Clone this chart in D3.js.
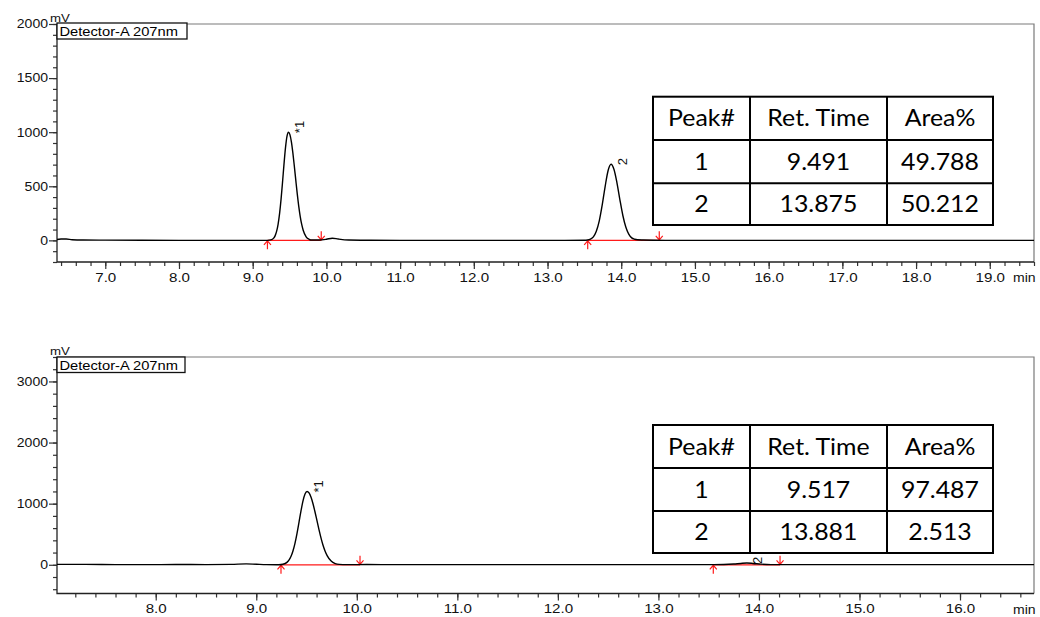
<!DOCTYPE html>
<html><head><meta charset="utf-8">
<script src="https://cdn.jsdelivr.net/npm/d3@7/dist/d3.min.js"></script>
<style>body{margin:0;background:#fff}svg{display:block}</style>
</head><body>
<svg id="c" width="1040" height="617"></svg>
<script>
// ---------- DATA ----------
const topTime = [6.345,6.4,6.47,6.55,6.7,7.0,7.5,8.0,8.5,9.0,9.2,9.245,9.285,9.305,9.325,9.345,9.365,9.385,9.405,9.425,9.445,9.465,9.485,9.505,9.525,9.545,9.565,9.585,9.605,9.625,9.645,9.665,9.685,9.725,9.765,9.805,9.9,10.0,10.08,10.16,10.3,10.6,11.0,12.0,13.0,13.5,13.542,13.582,13.622,13.662,13.702,13.742,13.782,13.822,13.862,13.902,13.942,13.982,14.022,14.062,14.102,14.142,14.182,14.222,14.3,14.45,14.6,15.5,16.5,17.5,18.5,19.6];
const topSignal = [8,12,12,6,3,2,1,0,0,0,0,4,21,44,85,151,249,381,539,707,857,962,1000,977,910,808,685,554,427,314,220,147,94,33,10,3,3,10,20,12,3,1,0,0,0,1,3,11,33,84,180,327,500,646,703,655,532,375,230,123,57,23,10,5,3,1,0,0,0,0,0,0];

const botTime = [7.018,7.3,7.6,7.9,8.2,8.5,8.75,8.9,9.0,9.1,9.2,9.225,9.265,9.305,9.325,9.345,9.365,9.385,9.405,9.425,9.445,9.465,9.485,9.505,9.525,9.545,9.565,9.585,9.605,9.625,9.645,9.665,9.685,9.705,9.745,9.785,9.825,9.9,10.1,10.4,10.8,11.3,11.8,12.3,12.8,13.3,13.55,13.65,13.75,13.82,13.88,13.94,14.02,14.12,14.3,14.8,15.3,15.8,16.3,16.736];
const botSignal = [6,6,3,2,4,3,6,15,9,3,1,1,9,39,75,134,225,350,510,694,882,1046,1159,1200,1175,1104,995,860,713,567,433,316,222,150,60,20,6,2,4,2,3,2,3,2,3,2,2,4,12,22,28,22,10,3,2,3,2,3,2,2];

const peakNames = ["1", "2"];
const peakMarks = ["*1", "2"];
const tableHeader = ["Peak#", "Ret. Time", "Area%"];

const topRT = ["9.491", "13.875"];
const topArea = ["49.788", "50.212"];
const topPeakHeight = [1000, 703];
const topBaseStart = [9.20, 13.545];
const topBaseEnd = [9.93, 14.516];

const botRT = ["9.517", "13.881"];
const botArea = ["97.487", "2.513"];
const botPeakHeight = [1200, 28];
const botBaseStart = [9.246, 13.546];
const botBaseEnd = [10.032, 14.21];

const detectorLabel = "Detector-A 207nm";
const yUnit = "mV";
const xUnit = "min";

// ---------- LAYOUT ----------
const svg = d3.select("#c");
const AX = "Liberation Sans, Arial, sans-serif";
const TF = "Lato, 'Open Sans', sans-serif";

function stretch(sel, k) {
  sel.each(function () {
    const w = this.getComputedTextLength();
    this.setAttribute("textLength", w * k);
    this.setAttribute("lengthAdjust", "spacingAndGlyphs");
  });
}

const panels = [
  { x0: 57, x1: 1034, y0: 24, y1: 262, xd: [6.345, 19.6], yd: [-200, 2000], yMinor: 100, yMajor: 500,
    time: topTime, sig: topSignal, rt: topRT, area: topArea, ph: topPeakHeight, bs: topBaseStart, be: topBaseEnd,
    box: [57, 187, 23, 39], table: { cols: [653, 750, 887, 993], rows: [96.7, 140, 183.3, 225] } },
  { x0: 57, x1: 1034, y0: 357, y1: 593.5, xd: [7.018, 16.736], yd: [-470, 3400], yMinor: 200, yMajor: 1000,
    time: botTime, sig: botSignal, rt: botRT, area: botArea, ph: botPeakHeight, bs: botBaseStart, be: botBaseEnd,
    box: [57, 185, 357, 372.5], table: { cols: [653, 750, 887, 993], rows: [425, 468, 511, 553] } }
];

panels.forEach(p => {
  const x = d3.scaleLinear().domain(p.xd).range([p.x0, p.x1]);
  const y = d3.scaleLinear().domain(p.yd).range([p.y1, p.y0]);
  const g = svg.append("g");

  // frame: top & right gray
  g.append("path").attr("d", `M${p.x0},${p.y0}H${p.x1}V${p.y1}`)
    .attr("fill", "none").attr("stroke", "#7a7a7a").attr("stroke-width", 1.2);

  // x ticks
  const xMinor = d3.range(Math.ceil(p.xd[0] * 5), Math.floor(p.xd[1] * 5 + 0.01) + 1).map(v => v / 5);
  const xMajor = xMinor.filter(v => Math.abs(v - Math.round(v)) < 1e-6);
  const xa1 = g.append("g").attr("transform", `translate(0,${p.y1})`)
    .call(d3.axisBottom(x).tickValues(xMinor).tickSize(4).tickFormat(""));
  const xa2 = g.append("g").attr("transform", `translate(0,${p.y1})`)
    .call(d3.axisBottom(x).tickValues(xMajor).tickSize(7).tickPadding(3).tickFormat(d3.format(".1f")));
  [xa1, xa2].forEach(a => { a.select(".domain").remove(); a.selectAll("line").attr("stroke", "#333").attr("stroke-width", 1.2); });
  xa2.selectAll("text").attr("font-family", AX).attr("font-size", 13.5).attr("fill", "#111").call(stretch, 1.12);

  // y ticks
  const yMinorV = d3.range(Math.ceil(p.yd[0] / p.yMinor) * p.yMinor, p.yd[1] + 1, p.yMinor);
  const yMajorV = yMinorV.filter(v => v % p.yMajor === 0);
  const ya1 = g.append("g").attr("transform", `translate(${p.x0},0)`)
    .call(d3.axisLeft(y).tickValues(yMinorV).tickSize(4).tickFormat(""));
  const ya2 = g.append("g").attr("transform", `translate(${p.x0},0)`)
    .call(d3.axisLeft(y).tickValues(yMajorV).tickSize(8).tickPadding(1).tickFormat(d3.format("d")));
  [ya1, ya2].forEach(a => { a.select(".domain").remove(); a.selectAll("line").attr("stroke", "#333").attr("stroke-width", 1.2); });
  ya2.selectAll("text").attr("font-family", AX).attr("font-size", 12).attr("fill", "#111").call(stretch, 1.17);

  // axes lines (left + bottom)
  g.append("path").attr("d", `M${p.x0},${p.y0}V${p.y1}H${p.x1}`)
    .attr("fill", "none").attr("stroke", "#222").attr("stroke-width", 1.3);

  // units
  g.append("text").attr("x", p.x1 - 21).attr("y", p.y1 + 20).attr("font-family", AX).attr("font-size", 13)
    .attr("fill", "#111").text(xUnit).call(stretch, 1.08);
  g.append("text").attr("x", p.x0 - 7).attr("y", p.y0 - 2).attr("font-family", AX).attr("font-size", 11.5)
    .attr("fill", "#111").text(yUnit).call(stretch, 1.15);

  // baselines (red)
  const rg = g.append("g").attr("stroke", "#ff1a1a").attr("fill", "none").attr("stroke-width", 1.2);
  p.bs.forEach((s, i) => {
    const xs = x(s), xe = x(p.be[i]), y0 = y(0);
    rg.append("line").attr("x1", xs).attr("x2", xe).attr("y1", y0).attr("y2", y0);
    rg.append("path").attr("d", `M${xs},${y0 + 9}V${y0 + 0.5}M${xs - 3.5},${y0 + 4.5}L${xs},${y0 + 0.5}L${xs + 3.5},${y0 + 4.5}`);
    rg.append("path").attr("d", `M${xe},${y0 - 9}V${y0 - 0.5}M${xe - 3.5},${y0 - 4.5}L${xe},${y0 - 0.5}L${xe + 3.5},${y0 - 4.5}`);
  });

  // trace
  const pts = p.time.map((t, i) => [t, p.sig[i]]);
  g.append("path").datum(pts)
    .attr("d", d3.line().x(d => x(d[0])).y(d => y(d[1])).curve(d3.curveMonotoneX))
    .attr("fill", "none").attr("stroke", "#000").attr("stroke-width", 1.4);

  // peak marks
  p.rt.forEach((r, i) => {
    g.append("text").attr("transform", `translate(${x(+r) + 15},${y(p.ph[i]) + 1}) rotate(-90)`)
      .attr("font-family", AX).attr("font-size", 13).attr("fill", "#111").text(peakMarks[i]);
  });

  // detector box
  g.append("rect").attr("x", p.box[0]).attr("y", p.box[2]).attr("width", p.box[1] - p.box[0]).attr("height", p.box[3] - p.box[2])
    .attr("fill", "#fff").attr("stroke", "#111").attr("stroke-width", 1.3);
  g.append("text").attr("x", p.box[0] + 2.5).attr("y", p.box[3] - 3).attr("font-family", AX).attr("font-size", 13)
    .attr("fill", "#000").text(detectorLabel).call(stretch, 1.13);

  // table
  const T = p.table, tg = g.append("g");
  tg.append("rect").attr("x", T.cols[0]).attr("y", T.rows[0]).attr("width", T.cols[3] - T.cols[0]).attr("height", T.rows[3] - T.rows[0])
    .attr("fill", "#fff").attr("stroke", "#000").attr("stroke-width", 2);
  [1, 2].forEach(c => tg.append("line").attr("x1", T.cols[c]).attr("x2", T.cols[c]).attr("y1", T.rows[0]).attr("y2", T.rows[3]).attr("stroke", "#000").attr("stroke-width", 2));
  [1, 2].forEach(r => tg.append("line").attr("x1", T.cols[0]).attr("x2", T.cols[3]).attr("y1", T.rows[r]).attr("y2", T.rows[r]).attr("stroke", "#000").attr("stroke-width", 2));
  const rowsData = [tableHeader, [peakNames[0], p.rt[0], p.area[0]], [peakNames[1], p.rt[1], p.area[1]]];
  rowsData.forEach((row, ri) => row.forEach((txt, ci) => {
    tg.append("text").attr("x", (T.cols[ci] + T.cols[ci + 1]) / 2).attr("y", (T.rows[ri] + T.rows[ri + 1]) / 2 + 8)
      .attr("text-anchor", "middle").attr("font-family", TF).attr("font-size", 23).attr("fill", "#000").text(txt)
      .call(stretch, 1.08);
  }));
});
</script>
</body></html>
